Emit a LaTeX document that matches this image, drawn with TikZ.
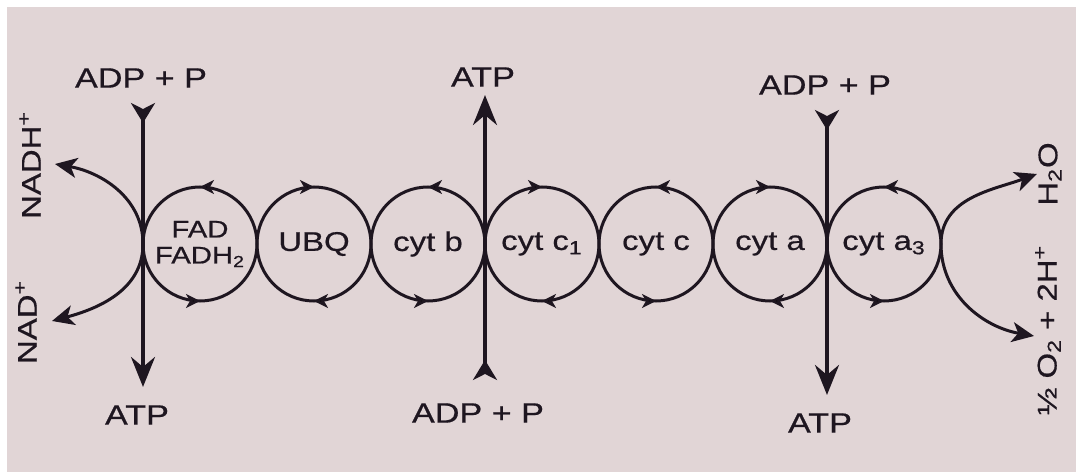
\documentclass[tikz,border=0pt]{standalone}
\usepackage{fontspec}
\setmainfont{Liberation Sans}[FakeStretch=1.22,FakeBold=0.6]
\usetikzlibrary{arrows.meta,decorations.markings,calc}
\definecolor{bg}{RGB}{225,213,214}
\definecolor{ink}{RGB}{30,22,32}
\tikzset{
  carrier/.style={circle, draw=ink, line width=1.5pt, minimum size=57pt, inner sep=0pt, outer sep=0pt,
    text=ink, font=\fontsize{13.5}{15}\selectfont},
  ccw/.style={carrier, postaction={decorate}, decoration={markings,
    mark=at position 0.25 with {\arrow{Stealth[length=7pt,width=7pt,inset=2pt]}},
    mark=at position 0.75 with {\arrow{Stealth[length=7pt,width=7pt,inset=2pt]}}}},
  cw/.style={carrier, postaction={decorate}, decoration={markings,
    mark=at position 0.25 with {\arrowreversed{Stealth[length=7pt,width=7pt,inset=2pt]}},
    mark=at position 0.75 with {\arrowreversed{Stealth[length=7pt,width=7pt,inset=2pt]}}}},
  lbl/.style={inner sep=0pt, text=ink, font=\fontsize{14}{16}\selectfont},
  rlbl/.style={inner sep=0pt, text=ink, rotate=90, font=\fontsize{13.5}{15}\selectfont},
  vline/.style={draw=ink, line width=1.9pt},
  arcline/.style={draw=ink, line width=1.5pt},
  intip/.tip={Stealth[reversed,length=10pt,width=12pt,inset=3pt]},
  outtip/.tip={Stealth[length=15pt,width=12pt,inset=5pt]},
  arctip/.tip={Stealth[length=11pt,width=10pt,inset=3pt]},
}
\begin{document}
\begin{tikzpicture}[x=0.5pt,y=0.5pt]
\useasboundingbox (0,0) rectangle (1078,472);
\fill[bg] (7,0) rectangle (1076,465);

% carriers
\node[ccw, align=center, font=\fontsize{12}{13}\selectfont] (fad) at (200,228) {FAD\\FADH\textsubscript{2}};
\node[cw]  (ubq)   at (314,228) {UBQ};
\node[ccw] (cytb)  at (428,228) {cyt b};
\node[cw]  (cytc1) at (542,228) {cyt c\textsubscript{1}};
\node[ccw] (cytc)  at (656,228) {cyt c};
\node[cw]  (cyta)  at (770,228) {cyt a};
\node[ccw] (cyta3) at (884,228) {cyt a\textsubscript{3}};

% labels
\node[lbl] (adp1) at (141,394) {ADP + P};
\node[lbl] (atp1) at (137,57) {ATP};
\node[lbl] (atp2) at (483,395) {ATP};
\node[lbl] (adp2) at (478,59) {ADP + P};
\node[lbl] (adp3) at (825,387) {ADP + P};
\node[lbl] (atp3) at (820,49) {ATP};

\node[rlbl] (nadh) at (30,307) {NADH\textsuperscript{+}};
\node[rlbl] (nad)  at (26,150) {NAD\textsuperscript{+}};
\node[rlbl] (h2o)  at (1050,298) {H\textsubscript{2}O};
\node[rlbl] (o2)   at (1048,142) {½ O\textsubscript{2} + 2H\textsuperscript{+}};

% phosphorylation lines
\draw[vline, intip-outtip, shorten <=7.5pt, shorten >=9pt]
  (fad.west |- adp1.south) -- (fad.west |- atp1.north);
\draw[vline, intip-outtip, shorten <=11.5pt, shorten >=4pt]
  (cytc1.west |- adp2.north) -- (cytc1.west |- atp2.south);
\draw[vline, intip-outtip, shorten <=7.5pt, shorten >=9pt]
  (cyta3.west |- adp3.south) -- (cyta3.west |- atp3.north);

% end arcs
\coordinate (nadhtip) at (55,308);
\coordinate (nadtip)  at (52,151);
\coordinate (h2otip)  at (1037,298);
\coordinate (o2tip)   at (1034,136);
\draw[arcline, -arctip] (fad.west) to[out=90,in=-10] (nadhtip);
\draw[arcline, -arctip] (fad.west) to[out=-90,in=15] (nadtip);
\draw[arcline, -arctip] (cyta3.east) to[out=90,in=200] (h2otip);
\draw[arcline, -arctip] (cyta3.east) to[out=-90,in=170] (o2tip);
\end{tikzpicture}
\end{document}
